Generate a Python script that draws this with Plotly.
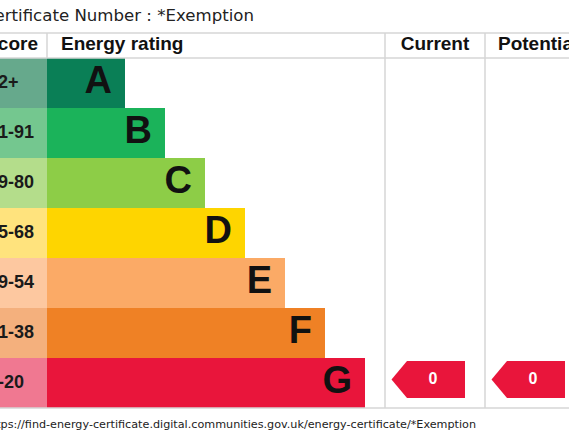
import plotly.graph_objects as go

# EPC rating bands
ratings = ["A", "B", "C", "D", "E", "F", "G"]
score_bands = ["92+", "81-91", "69-80", "55-68", "39-54", "21-38", "1-20"]
bar_colours = ["#0a7f56", "#1bb35a", "#8dcd47", "#fed500", "#fbaa66", "#ef8125", "#e9153b"]
score_colours = ["#66a98c", "#74c78f", "#b4dd8b", "#ffe37d", "#fdc8a0", "#f4b07d", "#f07891"]

# current / potential values
current_score = 0
current_rating = "G"
potential_score = 0
potential_rating = "G"

cert_number = "*Exemption"
url = "https://find-energy-certificate.digital.communities.gov.uk/energy-certificate/" + cert_number

rows = list(range(len(ratings)))
bar_start = 47
bar_lengths = [78 + 40 * i for i in rows]
bar_ends = [bar_start + b for b in bar_lengths]

cur_col = 385
pot_col = 485
grid = "#d6d6d6"
ink = "#111111"

fig = go.Figure()

# score column
fig.add_trace(go.Bar(
    y=rows, x=[bar_start + 60] * len(rows), base=-60, width=1,
    orientation="h", marker=dict(color=score_colours, line=dict(width=0)),
    hoverinfo="skip", showlegend=False
))

# rating bars
fig.add_trace(go.Bar(
    y=rows, x=bar_lengths, base=bar_start, width=1,
    orientation="h", marker=dict(color=bar_colours, line=dict(width=0)),
    hoverinfo="skip", showlegend=False
))

# band letters
fig.add_trace(go.Scatter(
    x=[e - 13 for e in bar_ends], y=rows, mode="text", text=ratings,
    textposition="middle left",
    textfont=dict(family="Liberation Sans", size=38, color=ink, weight="bold"),
    hoverinfo="skip", showlegend=False
))

# score labels (partly cut off at left like the source)
fig.add_trace(go.Scatter(
    x=[-12] * len(rows), y=rows, mode="text", text=score_bands,
    textposition="middle right",
    textfont=dict(family="Liberation Sans", size=18, color="#1a1a1a", weight="bold"),
    hoverinfo="skip", showlegend=False
))


def add_arrow(col_x, rating, value):
    r = ratings.index(rating)
    cy = r - 0.07
    h = 0.37
    xs = [col_x + 6.5, col_x + 22, col_x + 80, col_x + 80, col_x + 22, col_x + 6.5]
    ys = [cy, cy - h, cy - h, cy + h, cy + h, cy]
    fig.add_trace(go.Scatter(
        x=xs, y=ys, mode="lines", fill="toself", fillcolor=bar_colours[r],
        line=dict(width=0, color=bar_colours[r]), hoverinfo="skip", showlegend=False
    ))
    fig.add_trace(go.Scatter(
        x=[col_x + 48], y=[cy], mode="text", text=[str(value)],
        textposition="middle center",
        textfont=dict(family="Liberation Sans", size=16, color="white", weight="bold"),
        hoverinfo="skip", showlegend=False
    ))


add_arrow(cur_col, current_rating, current_score)
add_arrow(pot_col, potential_rating, potential_score)

# header texts
hdr_y = -0.75
fig.add_trace(go.Scatter(
    x=[38, 61, 435, 498], y=[hdr_y] * 4, mode="text",
    text=["Score", "Energy rating", "Current", "Potential"],
    textposition=["middle left", "middle right", "middle center", "middle right"],
    textfont=dict(family="Liberation Sans", size=19, color=ink, weight="bold"),
    hoverinfo="skip", showlegend=False
))

# certificate number above, url below
fig.add_trace(go.Scatter(
    x=[254], y=[-1.32], mode="text", text=["Certificate Number : " + cert_number],
    textposition="middle left",
    textfont=dict(family="DejaVu Sans", size=16.6, color="#222222"),
    hoverinfo="skip", showlegend=False
))
fig.add_trace(go.Scatter(
    x=[476], y=[6.84], mode="text", text=[url],
    textposition="middle left",
    textfont=dict(family="DejaVu Sans", size=11.2, color="#222222"),
    hoverinfo="skip", showlegend=False
))

# table lines
shapes = []
for yy in [-1.0, -0.5, 6.5]:
    shapes.append(dict(type="line", x0=-50, x1=620, y0=yy, y1=yy, line=dict(color=grid, width=1.5)))
for xx in [cur_col, pot_col]:
    shapes.append(dict(type="line", x0=xx, x1=xx, y0=-1.0, y1=6.5, line=dict(color=grid, width=1.5)))
shapes.append(dict(type="line", x0=bar_start, x1=bar_start, y0=-1.0, y1=-0.5, line=dict(color=grid, width=1.5)))

fig.update_layout(
    width=569, height=440,
    margin=dict(l=0, r=0, t=0, b=0),
    paper_bgcolor="white", plot_bgcolor="white",
    shapes=shapes,
    barmode="overlay",
    xaxis=dict(range=[0, 569], visible=False, fixedrange=True),
    yaxis=dict(range=[7.14, -1.66], visible=False, fixedrange=True),
    showlegend=False,
)

# page has a default body margin; drop it so the chart fills the window
fig.write_html(
    "out.html",
    config={"displayModeBar": False},
    post_script="document.body.style.margin='0';document.body.style.overflow='hidden';",
)
